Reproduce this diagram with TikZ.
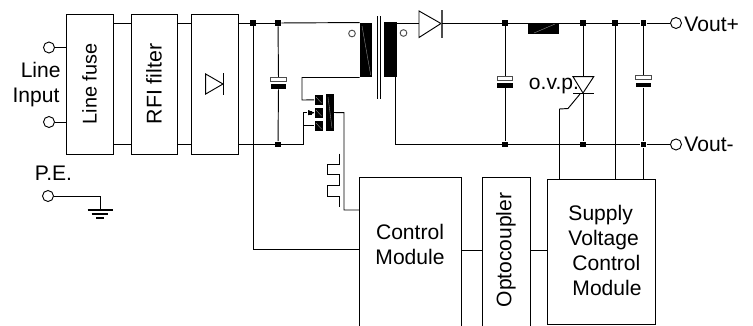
\documentclass[tikz,border=0pt]{standalone}
\usepackage{graphicx}
\usepackage{fontspec}
\setmainfont{Liberation Sans}
\usetikzlibrary{arrows,shapes,positioning}

\tikzset{
	block/.style={draw,inner sep=0pt,minimum height=105pt},
	modul/.style={draw,inner sep=0pt},
	dot/.style={rectangle,fill=black,inner sep=0pt,minimum size=4.2pt},
	term/.style={circle,draw,fill=white,inner sep=0pt,minimum size=8.25pt},
	mark dot/.style={circle,draw=black!70,inner sep=0pt,minimum size=5pt},
	core/.style={fill=black,inner sep=0pt},
	plate/.style={draw=black!70,fill=white,inner sep=0pt,minimum width=11.5pt,minimum height=3pt},
	plateb/.style={fill=black,inner sep=0pt,minimum width=11.5pt,minimum height=3.4pt},
	txt/.style={inner sep=0pt,font=\fontsize{15.8}{18.75}\selectfont},
	streak/.style={draw=black!45,line width=0.3pt}
}

\begin{document}
\begin{tikzpicture}[x=0.75pt,y=-0.75pt,>=stealth',auto,line width=0.7pt]
			\useasboundingbox (0,0) rectangle (753,325);

			% input blocks
			\node[block,minimum width=35.25pt,font=\fontsize{14.9}{16}\selectfont] (LF)  at (89.5,84)  {\rotatebox{90}{Line fuse}};
			\node[block,minimum width=34.5pt,font=\fontsize{16}{18}\selectfont]    (RFI) at (154,84)   {\rotatebox{90}{RFI filter}};
			\node[block,minimum width=35pt]                                         (RB)  at (214.75,84) {};

			% modules, they run past the lower edge
			\node[modul,minimum width=76.5pt,minimum height=118pt]   (CM) at (410,256.5)   {};
			\node[modul,minimum width=36pt,minimum height=118pt]     (OC) at (506,256.5)   {};
			\node[modul,minimum width=80.5pt,minimum height=108.9pt] (SV) at (601.4,251.9) {};
			\node[txt,align=center] (CMtxt) at (410,244.5) {Control\\Module};
			\node[txt] (OCtxt) at (506,250) {\rotatebox{90}{Optocoupler}};
			\node[txt,align=left] (SVtxt) at (605,250) {Supply\\Voltage\\\hspace*{3pt}Control\\\hspace*{3pt}Module};

			% terminals
			\node[term] (tA)  at (49,47.5) {};
			\node[term] (tB)  at (49,122)  {};
			\node[term] (tPE) at (48,196)  {};
			\node[term] (tP)  at (676,23)  {};
			\node[term] (tM)  at (676,144.5) {};
			\node[txt,align=center] (lineIn) at (36,85) {\hspace*{7pt}Line\\Input};
			\node[txt,anchor=base] (peTxt) at (53.5,180) {P.E.};
			\node[txt,anchor=base west] (vpTxt) at (684,31.5) {Vout+};
			\node[txt,anchor=base west] (vmTxt) at (684,151.5) {Vout-};
			\node[txt,anchor=base west] (ovpTxt) at (528.5,89) {o.v.p.};

			% junctions
			\node[dot] (jA) at (253,23)    {};
			\node[dot] (jB) at (278,23)    {};
			\node[dot] (jC) at (505,23)    {};
			\node[dot] (jD) at (583,23)    {};
			\node[dot] (jE) at (615,23)    {};
			\node[dot] (jF) at (643.5,23)  {};
			\node[dot] (jG) at (278,144.5) {};
			\node[dot] (jH) at (505,144.5) {};
			\node[dot] (jI) at (583,144.5) {};
			\node[dot] (jJ) at (643.5,144.5) {};

			% main transformer
			\node[core,minimum width=9pt,minimum height=40.5pt]     (Lp) at (366,50)    {};
			\node[core,minimum width=9.75pt,minimum height=41.25pt] (Ls) at (390.5,49.5) {};
			\node[mark dot] (mA) at (352,33.5)   {};
			\node[mark dot] (mB) at (403.5,33)   {};
			\coordinate (coreA) at (377,16);
			\coordinate (coreB) at (380.5,16);
			\draw (coreA) -- ++(0,83);
			\draw (coreB) -- ++(0,83);
			\draw[streak] (362,26) -- (370.7,75);

			% small transformer
			\node[core,minimum width=6pt,minimum height=7.2pt]  (Ta) at (318.7,99.9)  {};
			\node[core,minimum width=6pt,minimum height=7.5pt]  (Tb) at (318.7,112.7) {};
			\node[core,minimum width=6pt,minimum height=7.2pt]  (Tc) at (318.7,125.9) {};
			\node[core,minimum width=5.8pt,minimum height=27.3pt] (Td) at (329.9,112.5) {};
			\node[core,minimum width=3.2pt,minimum height=2.8pt] (Tarrow) at (310,112.7) {};
			\draw[streak] (316,97) -- (321.5,103);
			\draw[streak] (316,110) -- (321.5,116);
			\draw[streak] (316,123) -- (321.5,129);
			\draw[streak] (328,97) -- (332,128);

			% output diode, choke
			\coordinate (dA) at (419,23);
			\coordinate (dB) at (442,23);
			\draw (419,11) -- (441,23.5) -- (419,37.5) -- cycle;
			\draw[line width=1.1pt,black!70] (442,10) -- (442,38);
			\node[core,minimum width=23.25pt,minimum height=8.6pt] (Lo) at (543.5,28.25) {};
			\draw[streak] (534,33) -- (555,24);

			% rectifier symbol
			\draw (205.7,74) -- (223,84) -- (205.7,94) -- cycle;
			\draw[line width=1pt] (223.5,73) -- (223.5,95);

			% capacitors
			\node[plate]  (cAw) at (278.5,79.3) {};
			\node[plateb] (cAb) at (278.5,86.7) {};
			\node[plate]  (cBw) at (505,78.3)   {};
			\node[plateb] (cBb) at (505,85.5)   {};
			\node[plate]  (cCw) at (643.5,77.3) {};
			\node[plateb] (cCb) at (643.5,84.8) {};

			% thyristor
			\coordinate (thTop) at (583,76.7);
			\coordinate (thBot) at (583,93.7);
			\draw (573,76.7) -- (593.7,76.7) -- (583,93) -- cycle;
			\draw[line width=1pt] (573,93.7) -- (594,93.7);
			\coordinate (gateA) at (580,94);
			\coordinate (gateB) at (568,108.5);
			\coordinate (gateC) at (559.5,109);

			% helper points
			\coordinate (cmIn) at (359,249);
			\coordinate (fbA) at (344,112.7);
			\coordinate (fbB) at (359,210);
			\coordinate (pB) at (302,100);
			\coordinate (sA) at (303,112.7);
			\coordinate (sB) at (395.5,77);
			\coordinate (linkY) at (0,250);
			\coordinate (gnd) at (100,210);

			% ground
			\draw (tPE) -| (gnd);
			\draw[line width=1.1pt] (87.7,210) -- (112.7,210);
			\draw[line width=1.1pt] (91.7,214) -- (108,214);
			\draw[line width=1.1pt] (96,218) -- (104,218);

			% inductor drawn next to the feedback line
			\draw (339.7,153.5) -- (339.7,164) -- (327.7,164) -- (327.7,174.5) -- (339.7,174.5)
				-- (339.7,185) -- (327.7,185) -- (327.7,196) -- (339.7,196) -- (339.7,207);

			\path
			(tA) edge (LF.west |- tA)
			(tB) edge (LF.west |- tB)
			(LF.east |- jA) edge (RFI.west |- jA)
			(RFI.east |- jA) edge (RB.west |- jA)
			(RB.east |- jA) edge (jA)
			(LF.east |- jG) edge (RFI.west |- jG)
			(RFI.east |- jG) edge (RB.west |- jG)
			(RB.east |- jG) edge (jG)
			(jA) edge (jB)
			(jB) edge (Lp.north west)
				edge (cAw)
			(cAb) edge (jG)
			(Ls.east |- dA) edge (dA)
			(dB) edge (jC)
			(jC) edge (jD)
				edge (cBw)
			(cBb) edge (jH)
			(jD) edge (jE)
				edge (thTop)
			(thBot) edge (jI)
			(jE) edge (jF)
				edge (jE |- SV.north)
			(jF) edge (tP)
				edge (cCw)
			(cCb) edge (jJ)
			(jJ) edge (jJ |- SV.north)
				edge (tM)
			(jH) edge (jI)
			(jI) edge (jJ)
			(CM.east |- linkY) edge (OC.west |- linkY)
			(OC.east |- linkY) edge (SV.west |- linkY)
			(Tc.west) edge (Tc.west -| sA)
			(Tarrow) edge[->] (Tb.west);

			\draw (jA) |- (cmIn);
			\draw (Lp.south west) -- (pB |- Lp.south west) -- (pB) -- (Ta.west);
			\draw (jG) -| (sA) -- (Tarrow);
			\draw (Td.east) -- (fbA) |- (fbB);
			\draw (sB) |- (jH);
			\draw (gateA) -- (gateB) -- (gateC) -- (gateC |- SV.north);
\end{tikzpicture}
\end{document}
